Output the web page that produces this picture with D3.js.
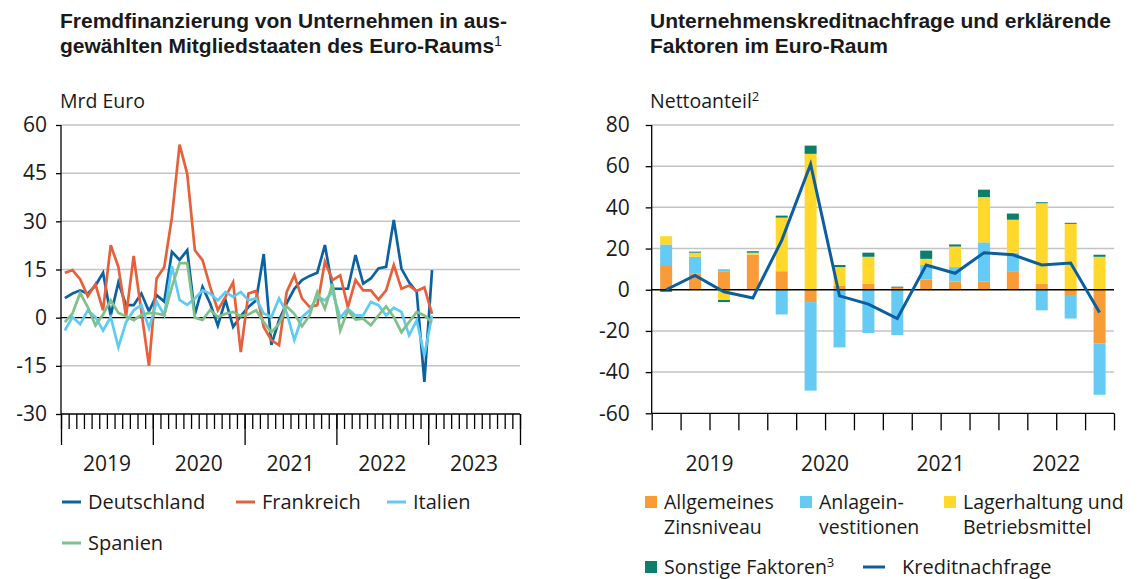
<!DOCTYPE html>
<html><head><meta charset="utf-8">
<script src="https://cdn.jsdelivr.net/npm/d3@7/dist/d3.min.js"></script>
<style>body{margin:0;background:#fff}</style>
</head><body><svg id="c" width="1141" height="579"></svg>
<script>
// ---------- Left chart data (monthly, Jan 2019 – Jan 2023) ----------
const yearsLeft = ["2019","2020","2021","2022","2023"];
const leftTicks = [-30,-15,0,15,30,45,60];
const deutschland = [6.1,7.5,8.5,7.5,10,14,0.7,11,3.9,3.9,7.5,2,7,5,20.5,18,21,1,9.6,4.4,-2.5,5.5,-2.9,0.5,3.3,5.4,19.8,-8.5,-0.8,4.5,9,11.7,13,14,22.6,9,9,9,19.5,10.6,12.2,15.3,15.8,30.4,15.3,11,8,-20,14.8];
const frankreich = [14,14.8,12,6.7,10.4,2.3,22.6,15.8,0.4,19.2,2,-15,12.2,15.8,31.3,53.9,44.8,21,17.9,9.6,2.3,6.5,11,-10.7,7.5,8.3,-2.9,-7,-8.6,8,13.2,6,3.3,3.9,17.4,11.7,13.2,3.3,11.7,8.5,8.5,5.6,8.5,16.4,9,10,8.3,9.4,1.2];
const italien = [-4,0.2,-2,2.3,0.2,-4,0.2,-9.2,-1.4,2.3,4,-3.3,5,0.8,16,5.5,4,6,8.5,7.5,5.4,8,6.5,8,5.4,6,1.3,0.2,6,1.5,-7,0.2,2.3,6.5,5.4,8,0,2.8,0.7,0.7,4.9,3.9,0.7,3.1,1.8,-5.5,-0.8,-11.8,0.7];
const spanien = [-1.4,1.3,7.7,3.3,-2.4,1,5.4,1.5,0.4,-0.8,0.8,1.5,1.3,0.8,9.6,17,17,0,-0.7,2.4,0.2,1.2,1.8,0.5,1,2.3,-1.4,-4.6,-1.9,3.5,1.2,-2.7,0.7,8,2.8,10.6,-4,2.3,-0.6,-0.3,-2.4,0.7,3.5,0.2,-4.5,-1.4,1.8,0.7,-1.4];
const leftSeriesNames = ["Deutschland","Frankreich","Italien","Spanien"];

// ---------- Right chart data (quarterly, 2019 Q1 – 2022 Q4) ----------
const quarters = ["2019Q1","2019Q2","2019Q3","2019Q4","2020Q1","2020Q2","2020Q3","2020Q4","2021Q1","2021Q2","2021Q3","2021Q4","2022Q1","2022Q2","2022Q3","2022Q4"];
const yearsRight = ["2019","2020","2021","2022"];
const rightTicks = [-60,-40,-20,0,20,40,60,80];
const zinsniveau = [12,8,9,17,9,-6,2,3,1,5,4,4,9,3,-3,-26];
const anlageinvestitionen = [10,8,1,0,-12,-43,-28,-21,-22,7,7,19,9,-10,-11,-25];
const lagerhaltung = [4,2,-5,1,26,66,9,13,0,3,10,22,16,39,32,16];
const sonstige = [-1,0.5,-1,0.7,1,4,1,2,0.5,4,1,3.6,3,0.5,0.5,1];
const kreditnachfrage = [0,7,-1,-4,24,61,-3,-7,-14,12,8,18,17,12,13,-11];

const FONT = "'Open Sans','Liberation Sans',Arial,sans-serif";
const TFONT = "'Liberation Sans',Arial,sans-serif";
const TXT = "#1a1a1a";
const GRID = "#c3c3c3";
const svg = d3.select("#c").style("font-family", FONT);

// ---------- Titles ----------
function title(x, lines, targetFirst){
  const ts = lines.map((ln, k) => {
    const t = svg.append("text").attr("x", x).attr("y", 28 + k*25)
      .attr("font-family", TFONT).attr("font-size", 19).attr("font-weight", "bold").attr("fill", TXT);
    t.append("tspan").text(ln.text);
    if (ln.sup) t.append("tspan").attr("dy", -7).attr("font-size", "0.68em").attr("font-weight", "normal").text(ln.sup);
    return t;
  });
  const w = ts[0].node().getComputedTextLength();
  const fs = Math.min(21, 19 * targetFirst / w);
  ts.forEach(t => t.attr("font-size", fs.toFixed(2)));
}
title(60, [{text:"Fremdfinanzierung von Unternehmen in aus-"},{text:"gewählten Mitgliedstaaten des Euro-Raums", sup:"1"}], 457);
title(650, [{text:"Unternehmenskreditnachfrage und erklärende"},{text:"Faktoren im Euro-Raum"}], 479);

// ---------- Left chart ----------
const xL = d3.scaleLinear().domain([0, 60]).range([61, 520]);
const yL = d3.scaleLinear().domain([-30, 60]).range([414, 125]);

svg.append("text").attr("x", 60).attr("y", 108).attr("font-size", 19.5).attr("fill", TXT).text("Mrd Euro");

const gL = svg.append("g");
gL.selectAll("line.grid").data(leftTicks.filter(t => t !== 0 && t !== -30)).join("line")
  .attr("x1", xL(0)).attr("x2", xL(60)).attr("y1", d => yL(d)).attr("y2", d => yL(d))
  .attr("stroke", GRID).attr("stroke-width", 1.5);

const axL = gL.append("g").attr("transform", `translate(${xL(0)},0)`)
  .call(d3.axisLeft(yL).tickValues(leftTicks).tickSize(5).tickSizeOuter(0).tickPadding(9).tickFormat(d => String(d)));
axL.select(".domain").remove();
axL.selectAll("text").attr("font-size", 21).attr("font-family", FONT).attr("fill", TXT);
axL.selectAll("line").attr("stroke", "#000").attr("stroke-width", 1.3);

// bottom axis: minor months, major years
const axMinor = gL.append("g").attr("transform", `translate(0,${yL(-30)})`)
  .call(d3.axisBottom(xL).tickValues(d3.range(0, 61)).tickSize(15).tickSizeOuter(0).tickFormat(""));
const axMajor = gL.append("g").attr("transform", `translate(0,${yL(-30)})`)
  .call(d3.axisBottom(xL).tickValues(d3.range(0, 61, 12)).tickSize(31).tickSizeOuter(0).tickFormat(""));
[axMinor, axMajor].forEach(a => { a.select(".domain").remove(); a.selectAll("line").attr("stroke", "#000").attr("stroke-width", 1.3); });

gL.selectAll("text.yr").data(yearsLeft).join("text")
  .attr("x", (d, i) => xL(i*12 + 6)).attr("y", 471).attr("text-anchor", "middle")
  .attr("font-size", 21).attr("fill", TXT).text(d => d);

// axes lines
gL.append("line").attr("x1", xL(0)).attr("x2", xL(60)).attr("y1", yL(-30)).attr("y2", yL(-30)).attr("stroke", "#000").attr("stroke-width", 1.3);
gL.append("line").attr("x1", xL(0)).attr("x2", xL(0)).attr("y1", yL(60)).attr("y2", yL(-30)).attr("stroke", "#000").attr("stroke-width", 1.3);
gL.append("line").attr("x1", xL(0)).attr("x2", xL(60)).attr("y1", yL(0)).attr("y2", yL(0)).attr("stroke", "#000").attr("stroke-width", 1.3);

const leftColors = {Deutschland:"#0a62a3", Frankreich:"#e8603a", Italien:"#5ecbf3", Spanien:"#80c08a"};
const leftData = {Deutschland: deutschland, Frankreich: frankreich, Italien: italien, Spanien: spanien};
const lineL = d3.line().x((d, i) => xL(i + 0.5)).y(d => yL(d));
leftSeriesNames.forEach(n => {
  gL.append("path").datum(leftData[n]).attr("d", lineL).attr("fill", "none")
    .attr("stroke", leftColors[n]).attr("stroke-width", 2.7).attr("stroke-linejoin", "miter");
});

// left legend
const legL = [
  {n:"Deutschland", x:62, y:502},
  {n:"Frankreich", x:236, y:502},
  {n:"Italien", x:387, y:502},
  {n:"Spanien", x:62, y:543}
];
legL.forEach(l => {
  svg.append("line").attr("x1", l.x).attr("x2", l.x + 19).attr("y1", l.y).attr("y2", l.y)
    .attr("stroke", leftColors[l.n]).attr("stroke-width", 3);
  svg.append("text").attr("x", l.x + 26).attr("y", l.y + 7).attr("font-size", 20).attr("fill", TXT).text(l.n);
});

// ---------- Right chart ----------
const xR = d3.scaleBand().domain(quarters).range([651.7, 1114]).paddingInner(0.585).paddingOuter(0.2925);
const xQ = d3.scaleLinear().domain([0, 16]).range([651.7, 1114]);
const yR = d3.scaleLinear().domain([-60, 80]).range([413.3, 125]);

const sup2 = svg.append("text").attr("x", 650).attr("y", 108).attr("font-size", 19.5).attr("fill", TXT);
sup2.append("tspan").text("Nettoanteil");
sup2.append("tspan").attr("dy", -7).attr("font-size", 13).text("2");

const gR = svg.append("g");
gR.selectAll("line.grid").data(rightTicks.filter(t => t !== 0 && t !== -60)).join("line")
  .attr("x1", xQ(0)).attr("x2", xQ(16)).attr("y1", d => yR(d)).attr("y2", d => yR(d))
  .attr("stroke", GRID).attr("stroke-width", 1.5);

const axR = gR.append("g").attr("transform", `translate(${xQ(0)},0)`)
  .call(d3.axisLeft(yR).tickValues(rightTicks).tickSize(6).tickSizeOuter(0).tickPadding(16).tickFormat(d => String(d)));
axR.select(".domain").remove();
axR.selectAll("text").attr("font-size", 21).attr("font-family", FONT).attr("fill", TXT);
axR.selectAll("line").attr("stroke", "#000").attr("stroke-width", 1.3);

const axRB = gR.append("g").attr("transform", `translate(0,${yR(-60)})`)
  .call(d3.axisBottom(xQ).tickValues(d3.range(0, 17)).tickSize(17).tickSizeOuter(0).tickFormat(""));
axRB.select(".domain").remove();
axRB.selectAll("line").attr("stroke", "#000").attr("stroke-width", 1.3);

gR.selectAll("text.yr").data(yearsRight).join("text")
  .attr("x", (d, i) => xQ(i*4 + 2)).attr("y", 471).attr("text-anchor", "middle")
  .attr("font-size", 21).attr("fill", TXT).text(d => d);

const keys = ["zins","anlage","lager","sonst"];
const barColors = {zins:"#f99b36", anlage:"#66cbf4", lager:"#ffd82b", sonst:"#0b7f6b"};
const rows = quarters.map((q, i) => ({q, zins: zinsniveau[i], anlage: anlageinvestitionen[i], lager: lagerhaltung[i], sonst: sonstige[i]}));
const stacked = d3.stack().keys(keys).offset(d3.stackOffsetDiverging)(rows);
stacked.forEach(s => {
  gR.append("g").attr("fill", barColors[s.key]).selectAll("rect").data(s).join("rect")
    .attr("x", d => xR(d.data.q)).attr("width", xR.bandwidth())
    .attr("y", d => yR(Math.max(d[0], d[1])))
    .attr("height", d => Math.abs(yR(d[0]) - yR(d[1])));
});

gR.append("line").attr("x1", xQ(0)).attr("x2", xQ(16)).attr("y1", yR(-60)).attr("y2", yR(-60)).attr("stroke", "#000").attr("stroke-width", 1.3);
gR.append("line").attr("x1", xQ(0)).attr("x2", xQ(0)).attr("y1", yR(80)).attr("y2", yR(-60)).attr("stroke", "#000").attr("stroke-width", 1.3);
gR.append("line").attr("x1", xQ(0)).attr("x2", xQ(16)).attr("y1", yR(0)).attr("y2", yR(0)).attr("stroke", "#000").attr("stroke-width", 1.3);

const lineR = d3.line().x((d, i) => xR(quarters[i]) + xR.bandwidth()/2).y(d => yR(d));
gR.append("path").datum(kreditnachfrage).attr("d", lineR).attr("fill", "none")
  .attr("stroke", "#0b5fa0").attr("stroke-width", 3);

// right legend
const legR = [
  {k:"zins", x:645, y:496, lines:["Allgemeines","Zinsniveau"]},
  {k:"anlage", x:800, y:496, lines:["Anlagein-","vestitionen"]},
  {k:"lager", x:944, y:496, lines:["Lagerhaltung und","Betriebsmittel"]},
  {k:"sonst", x:645, y:561, lines:["Sonstige Faktoren"], sup:"3"}
];
legR.forEach(l => {
  svg.append("rect").attr("x", l.x).attr("y", l.y).attr("width", 12).attr("height", 12).attr("fill", barColors[l.k]);
  l.lines.forEach((ln, k) => {
    const t = svg.append("text").attr("x", l.x + 19).attr("y", l.y + 13 + k*25).attr("font-size", 19.5).attr("fill", TXT);
    t.append("tspan").text(ln);
    if (l.sup && k === l.lines.length - 1) t.append("tspan").attr("dy", -7).attr("font-size", 13).text(l.sup);
  });
});
svg.append("line").attr("x1", 863).attr("x2", 885).attr("y1", 567).attr("y2", 567).attr("stroke", "#0b5fa0").attr("stroke-width", 3);
svg.append("text").attr("x", 902).attr("y", 574).attr("font-size", 20).attr("fill", TXT).text("Kreditnachfrage");
</script>
</body></html>
